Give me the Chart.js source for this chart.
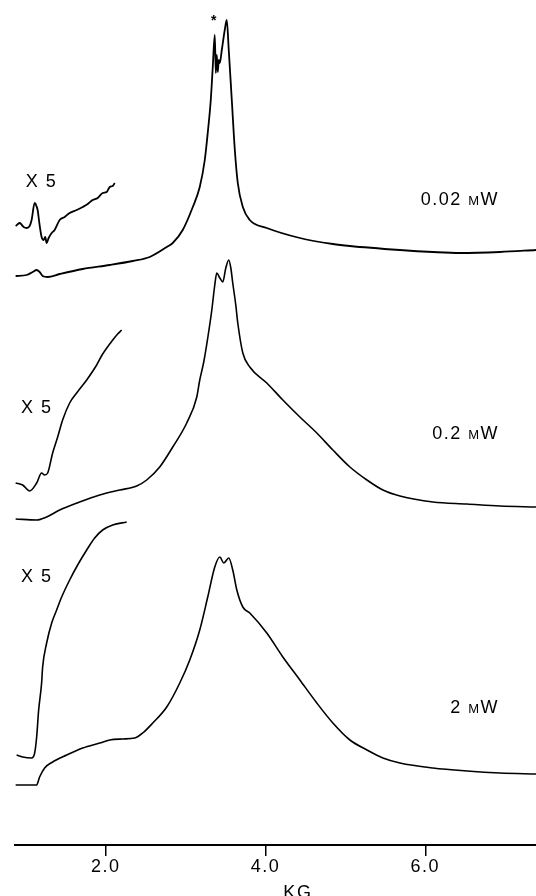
<!DOCTYPE html>
<html>
<head>
<meta charset="utf-8">
<script src="https://cdn.jsdelivr.net/npm/chart.js@4.4.1/dist/chart.umd.min.js"></script>
<style>
  html, body { margin: 0; padding: 0; background: #fff; }
  #wrap { position: relative; width: 536px; height: 896px; }
</style>
</head>
<body>
<div id="wrap"><canvas id="chart-epr"></canvas></div>
<script>
// ── data (field in KG, signal in a.u.) ──
var fieldTicks = [2, 4, 6];
var powers     = ['0.02', '0.2', '2'];
var gainLabel  = 'X 5';

// 0.02 mW
var field1 = [0.873,1.011,1.086,1.136,1.173,1.211,1.274,1.424,1.712,2.050,2.338,2.551,2.764,2.839,2.964,3.090,3.177,3.240,3.277,3.315,3.340,3.365,3.378,3.390,3.403,3.415,3.428,3.453,3.490,3.515,3.540,3.578,3.616,3.653,3.716,3.803,4.016,4.430,4.843,5.056,5.682,6.095,6.433,6.934,7.385];
var sig1   = [0,1,4,6,4,0,-1,2,7,11,15,19,29,33,46,69,89,116,143,176,209,241,203,221,204,216,213,226,246,256,226,176,126,93,69,56,48,38,32,30,26,24,23,24,26];
var fieldX1 = [0.873,0.923,0.973,1.011,1.048,1.073,1.111,1.123,1.148,1.173,1.198,1.224,1.243,1.261,1.286,1.324,1.361,1.424,1.486,1.549,1.637,1.712,1.775,1.837,1.900,1.962,2.013,2.050,2.088,2.113];
var sigX1   = [1,4,0,-1,1,7,24,23,17,2,-10,-13,-10,-16,-11,-6,-3,7,10,14,17,20,23,27,29,34,35,40,41,44];

// 0.2 mW
var field2 = [0.873,1.136,1.261,1.424,1.674,1.925,2.175,2.388,2.513,2.676,2.839,3.014,3.140,3.177,3.227,3.277,3.328,3.365,3.390,3.428,3.465,3.503,3.540,3.566,3.590,3.628,3.653,3.716,3.803,4.016,4.217,4.430,4.642,4.843,5.056,5.269,5.469,5.682,6.095,6.521,6.934,7.385];
var sig2   = [1,0,3,10,18,25,30,34,40,53,73,97,123,140,158,182,210,235,247,242,238,252,260,252,237,215,197,167,153,137,120,103,87,70,53,40,30,24,18,16,14,13];
var fieldX2 = [0.873,0.961,1.048,1.136,1.198,1.236,1.274,1.336,1.399,1.461,1.549,1.637,1.762,1.887,1.962,2.088,2.150,2.200];
var sigX2   = [-1,-3,-9,-1,9,7,9,29,45,62,79,89,102,117,128,142,148,152];

// 2 mW
var field3 = [0.873,1.136,1.173,1.236,1.336,1.512,1.712,1.925,2.050,2.213,2.363,2.463,2.589,2.764,2.927,3.052,3.177,3.277,3.365,3.428,3.478,3.540,3.590,3.641,3.716,3.803,4.016,4.217,4.430,4.642,4.843,5.056,5.269,5.469,5.682,6.095,6.521,6.934,7.385];
var sig3   = [0,0,8,17,23,30,37,42,45,46,47,52,62,78,102,125,155,188,218,228,222,227,215,195,178,172,152,128,105,82,62,45,35,27,22,17,14,12,11];
var fieldX3 = [0.885,0.961,1.073,1.111,1.136,1.161,1.198,1.211,1.261,1.324,1.386,1.449,1.549,1.649,1.762,1.862,1.962,2.088,2.263];
var sigX3   = [0,-2,-3,2,18,45,72,88,112,132,145,158,175,190,205,217,225,230,233];

// vertical stacking of the traces (a.u.)
var offsets      = [569, 325, 60];
var insetOffsets = [618, 363, 90];

var FONT = "'Liberation Sans', Arial, sans-serif";
var SPACING = '1.5px';

function pts(xs, ys, off) {
  return xs.map(function (x, i) { return { x: x, y: ys[i] + off }; });
}

function trace(xs, ys, off, w) {
  return {
    data: pts(xs, ys, off),
    borderColor: '#000',
    borderWidth: w,
    pointRadius: 0,
    fill: false,
    cubicInterpolationMode: 'monotone',
  };
}

// wider tracking, like the typeset labels
var tracking = {
  id: 'tracking',
  beforeDraw: function (chart) { chart.ctx.letterSpacing = SPACING; },
};

// text annotations placed in data coordinates
var notes = {
  id: 'notes',
  afterDraw: function (chart) {
    var ctx = chart.ctx, xs = chart.scales.x, ys = chart.scales.y;
    ctx.save();
    ctx.letterSpacing = SPACING;
    ctx.fillStyle = '#000';

    // X 5 gain marks
    ctx.font = '18px ' + FONT;
    ctx.textAlign = 'center';
    ctx.textBaseline = 'middle';
    [[1.198, 663], [1.136, 437], [1.136, 268]].forEach(function (p) {
      ctx.fillText(gainLabel, xs.getPixelForValue(p[0]), ys.getPixelForValue(p[1]));
    });

    // power labels, small-cap m
    var rows = [647, 413, 139];
    powers.forEach(function (pw, i) {
      var right = xs.getPixelForValue(6.922);
      var base = ys.getPixelForValue(rows[i]) + 7;
      ctx.textAlign = 'left';
      ctx.textBaseline = 'alphabetic';
      ctx.font = '18px ' + FONT;
      var a = pw + ' ', wA = ctx.measureText(a).width, wW = ctx.measureText('W').width;
      ctx.font = '13px ' + FONT;
      var wM = ctx.measureText('M').width;
      var x0 = right - (wA + wM + wW);
      ctx.font = '18px ' + FONT;
      ctx.fillText(a, x0, base);
      ctx.font = '13px ' + FONT;
      ctx.fillText('M', x0 + wA, base);
      ctx.font = '18px ' + FONT;
      ctx.fillText('W', x0 + wA + wM, base);
    });

    // asterisk over the sharp line
    ctx.letterSpacing = '0px';
    ctx.font = 'bold 14px ' + FONT;
    ctx.textAlign = 'center';
    ctx.textBaseline = 'middle';
    ctx.fillText('*', xs.getPixelForValue(3.353), ys.getPixelForValue(824));

    // axis unit
    ctx.letterSpacing = SPACING;
    ctx.font = '18px ' + FONT;
    ctx.textBaseline = 'alphabetic';
    ctx.fillText('KG', xs.getPixelForValue(4.405), ys.getPixelForValue(-53));
    ctx.restore();
  }
};

document.addEventListener('DOMContentLoaded', function () {
  var ctx = document.getElementById('chart-epr');
  new Chart(ctx.getContext('2d'), {
    type: 'line',
    data: {
      datasets: [
        trace(field1,  sig1,  offsets[0],      1.8),
        trace(fieldX1, sigX1, insetOffsets[0], 1.8),
        trace(field2,  sig2,  offsets[1],      1.6),
        trace(fieldX2, sigX2, insetOffsets[1], 1.6),
        trace(field3,  sig3,  offsets[2],      1.6),
        trace(fieldX3, sigX3, insetOffsets[2], 1.6),
      ],
    },
    options: {
      responsive: true,
      maintainAspectRatio: false,
      animation: false,
      devicePixelRatio: 1,
      layout: { padding: { left: 15, right: 0, top: 0, bottom: 0 } },
      plugins: { legend: { display: false }, tooltip: { enabled: false } },
      scales: {
        x: {
          type: 'linear',
          min: 0.865,
          max: 7.385,
          afterBuildTicks: function (s) { s.ticks = fieldTicks.map(function (v) { return { value: v }; }); },
          afterFit: function (s) { s.height = 51; },
          border: { display: true, color: '#000', width: 2 },
          grid: { drawOnChartArea: false, drawTicks: true, tickLength: 11, color: '#000', lineWidth: 1.5 },
          ticks: {
            color: '#000', padding: 0, maxRotation: 0, autoSkip: false,
            font: { family: FONT, size: 18 },
            callback: function (v) { return v.toFixed(1); },
          },
        },
        y: { display: false, min: 0, max: 845 },
      },
    },
    plugins: [tracking, notes],
  });
});
</script>
</body>
</html>
